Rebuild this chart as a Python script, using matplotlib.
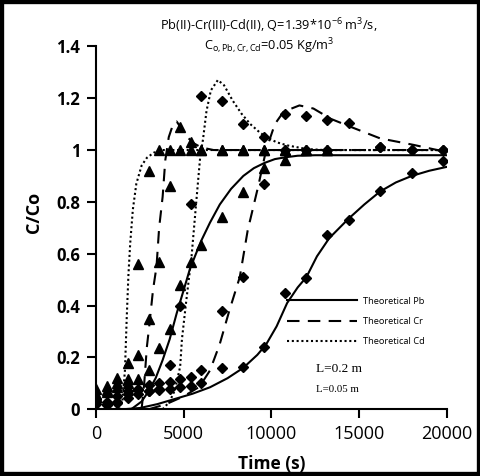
import matplotlib
matplotlib.use("Agg")
import matplotlib.pyplot as plt
from matplotlib.lines import Line2D
from matplotlib.patches import Rectangle

plt.rcParams['font.family'] = ['Open Sans', 'DejaVu Sans']
plt.rcParams['mathtext.fontset'] = 'custom'
plt.rcParams['mathtext.rm'] = 'Open Sans'
plt.rcParams['mathtext.it'] = 'Open Sans:italic'
plt.rcParams['mathtext.bf'] = 'Open Sans:bold'

# ---------------- experimental data ----------------
# L = 0.2 m (diamonds)
t_d = [0, 600, 1200, 1800, 2400, 3000, 3600, 4200, 4800, 5400, 6000,
       7200, 8400, 9600, 10800, 12000, 13200, 14400, 16200, 18000, 19800]
pb_d = [0.02, 0.017, 0.025, 0.045, 0.06, 0.07, 0.075, 0.08, 0.085, 0.09, 0.10,
        0.158, 0.164, 0.242, 0.447, 0.505, 0.672, 0.73, 0.843, 0.91, 0.958]
cr_d = [0.03, 0.02, 0.03, 0.06, 0.075, 0.07, 0.08, 0.106, 0.115, 0.126, 0.15,
        0.38, 0.51, 0.87, 1.14, 1.13, 1.115, 1.105, 1.01, 1.0, 1.0]
t_cd_d = [0, 600, 1200, 1800, 2400, 3000, 3600, 4200, 4800, 5400, 6000,
          7200, 8400, 9600, 10800, 12000, 13200, 16200, 18000, 19800]
cd_d = [0.04, 0.03, 0.05, 0.07, 0.08, 0.094, 0.10, 0.17, 0.40, 0.79, 1.21,
        1.19, 1.10, 1.05, 1.0, 1.0, 1.0, 1.01, 1.0, 1.0]

# L = 0.05 m (triangles)
t_pb_t = [0, 600, 1200, 1800, 2400, 3000, 3600, 4200, 4800, 5400, 6000,
          7200, 8400, 9600, 10800]
pb_t = [0.05, 0.065, 0.085, 0.10, 0.115, 0.15, 0.235, 0.31, 0.48, 0.57, 0.635,
        0.74, 0.84, 0.93, 0.96]
t_cr_t = [0, 600, 1200, 1800, 2400, 3000, 3600, 4200, 4800, 5400, 6000,
          7200, 8400, 9600, 10800, 12000, 13200]
cr_t = [0.06, 0.075, 0.10, 0.115, 0.21, 0.35, 0.57, 0.86, 1.09, 1.03, 1.0,
        1.0, 1.0, 1.0, 1.0, 1.0, 1.0]
t_cd_t = [0, 600, 1200, 1800, 2400, 3000, 3600, 4200, 4800, 5400, 6000,
          7200, 8400, 9600, 10800, 12000, 13200]
cd_t = [0.08, 0.09, 0.12, 0.177, 0.56, 0.92, 1.0, 1.0, 1.0, 1.0, 1.0,
        1.0, 1.0, 1.0, 1.0, 1.0, 1.0]

# ---------------- theoretical curves ----------------
# L = 0.05 m
tpb05 = [0, 2000, 2600, 3000, 3400, 3800, 4200, 4600, 5000, 5350, 5700, 6000,
         6500, 7060, 7700, 8400, 9000, 9600, 10200, 10800, 11500, 12500, 20000]
ypb05 = [0, 0, 0.03, 0.07, 0.12, 0.19, 0.27, 0.37, 0.46, 0.54, 0.60, 0.65,
         0.72, 0.79, 0.85, 0.90, 0.93, 0.95, 0.965, 0.972, 0.978, 0.98, 0.98]
tcr05 = [2600, 2750, 2900, 3050, 3250, 3450, 3600, 3800, 3950, 4150, 4400,
         4600, 4900, 5200, 5600, 6000, 6700, 20000]
ycr05 = [0.0, 0.10, 0.24, 0.33, 0.46, 0.55, 0.70, 0.82, 0.96, 1.05, 1.10,
         1.11, 1.08, 1.05, 1.025, 1.01, 1.0, 1.0]
tcd05 = [1300, 1500, 1650, 1750, 1850, 1950, 2100, 2300, 2600, 2900, 3300,
         3800, 20000]
ycd05 = [0.0, 0.03, 0.15, 0.35, 0.52, 0.64, 0.77, 0.87, 0.94, 0.97, 0.99,
         1.0, 1.0]
# L = 0.2 m
tpb2 = [1500, 2500, 3500, 4500, 5500, 6500, 7500, 8400, 9200, 9700, 10300,
        10900, 11500, 12000, 12600, 13300, 14400, 15300, 16200, 17100, 18000,
        19000, 20000]
ypb2 = [0, 0.005, 0.02, 0.04, 0.06, 0.085, 0.12, 0.16, 0.21, 0.25, 0.32,
        0.41, 0.47, 0.51, 0.59, 0.66, 0.735, 0.79, 0.84, 0.875, 0.90,
        0.92, 0.935]
tcr2 = [3000, 4000, 5000, 5900, 6500, 7050, 7600, 8200, 8650, 9250, 9700,
        10200, 10700, 11600, 12400, 13400, 14500, 16200, 18100, 19800, 20000]
ycr2 = [0.0, 0.02, 0.05, 0.087, 0.15, 0.25, 0.38, 0.51, 0.69, 0.86, 1.0,
        1.10, 1.148, 1.172, 1.16, 1.12, 1.09, 1.045, 1.02, 0.995, 0.99]
tcd2 = [3800, 4200, 4500, 4800, 4900, 5150, 5450, 5730, 5950, 6100, 6300,
        6550, 6950, 7300, 7800, 8300, 8800, 9300, 9700, 10300, 10900, 12000,
        13000, 20000]
ycd2 = [0.0, 0.03, 0.074, 0.165, 0.27, 0.42, 0.59, 0.81, 0.98, 1.04, 1.15,
        1.23, 1.27, 1.25, 1.19, 1.14, 1.10, 1.07, 1.05, 1.03, 1.018, 1.004,
        1.0, 1.0]

xticks = [0, 5000, 10000, 15000, 20000]
yticks = [0, 0.2, 0.4, 0.6, 0.8, 1.0, 1.2, 1.4]
ytick_labels = ['0', '0.2', '0.4', '0.6', '0.8', '1', '1.2', '1.4']

# ---------------- figure ----------------
fig = plt.figure(figsize=(4.81, 4.76), dpi=100)
ax = fig.add_axes([0.1996, 0.1401, 0.7291, 0.7626])

lw = 1.5
dash = (0, (6, 4))
dot = (0, (1, 1.3))
ax.plot(tpb05, ypb05, color='black', lw=lw, ls='-')
ax.plot(tcr05, ycr05, color='black', lw=lw, ls=dash)
ax.plot(tcd05, ycd05, color='black', lw=lw, ls=dot)
ax.plot(tpb2, ypb2, color='black', lw=lw, ls='-')
ax.plot(tcr2, ycr2, color='black', lw=lw, ls=dash)
ax.plot(tcd2, ycd2, color='black', lw=lw, ls=dot)

ms_d = 5.3
ms_t = 7.5
for tt, yy in [(t_d, pb_d), (t_d, cr_d), (t_cd_d, cd_d)]:
    ax.plot(tt, yy, ls='none', marker='D', ms=ms_d, color='black')
for tt, yy in [(t_pb_t, pb_t), (t_cr_t, cr_t), (t_cd_t, cd_t)]:
    ax.plot(tt, yy, ls='none', marker='^', ms=ms_t, color='black')

ax.set_xlim(0, 20000)
ax.set_ylim(0, 1.4)
ax.set_xticks(xticks)
ax.set_xticklabels([str(v) for v in xticks], fontsize=13)
ax.set_yticks(yticks)
ax.set_yticklabels(ytick_labels, fontsize=12, fontweight='bold')
ax.tick_params(axis='both', direction='out', length=6.5, width=1.5, pad=5)
for s in ['top', 'right']:
    ax.spines[s].set_visible(False)
for s in ['left', 'bottom']:
    ax.spines[s].set_linewidth(1.5)

ax.set_xlabel('Time (s)', fontsize=12.5, fontweight='bold')
ax.xaxis.set_label_coords(0.5, -0.125)
ax.set_ylabel('C/Co', fontsize=13, fontweight='bold')
ax.yaxis.set_label_coords(-0.15, 0.541)

fig.text(0.559, 0.947, r'Pb(II)-Cr(III)-Cd(II), Q=1.39*10$^{-6}$ m$^{3}$/s,',
         ha='center', va='center', fontsize=9.2)
fig.text(0.559, 0.903, r'C$_{\mathrm{o,Pb,Cr,Cd}}$=0.05 Kg/m$^{3}$',
         ha='center', va='center', fontsize=9.2)

handles = [Line2D([], [], color='black', lw=lw, ls='-'),
           Line2D([], [], color='black', lw=lw, ls=dash),
           Line2D([], [], color='black', lw=lw, ls=dot)]
ax.legend(handles, ['Theoretical Pb', 'Theoretical Cr', 'Theoretical Cd'],
          frameon=False, fontsize=6.7, handlelength=7.5, handletextpad=0.65,
          labelspacing=1.2, borderpad=0, borderaxespad=0, loc='upper left',
          bbox_to_anchor=(0.5967, 0.3766), bbox_transform=fig.transFigure)

fig.text(0.657, 0.224, 'L=0.2 m', fontsize=9.6, family='Liberation Serif',
         ha='left', va='center')
fig.text(0.657, 0.182, 'L=0.05 m', fontsize=7.8, family='Liberation Serif',
         ha='left', va='center')

fig.add_artist(Rectangle((0, 0), 1, 1, transform=fig.transFigure, fill=False,
                         edgecolor='black', lw=6, clip_on=False))

fig.savefig('out.png', dpi=100)
